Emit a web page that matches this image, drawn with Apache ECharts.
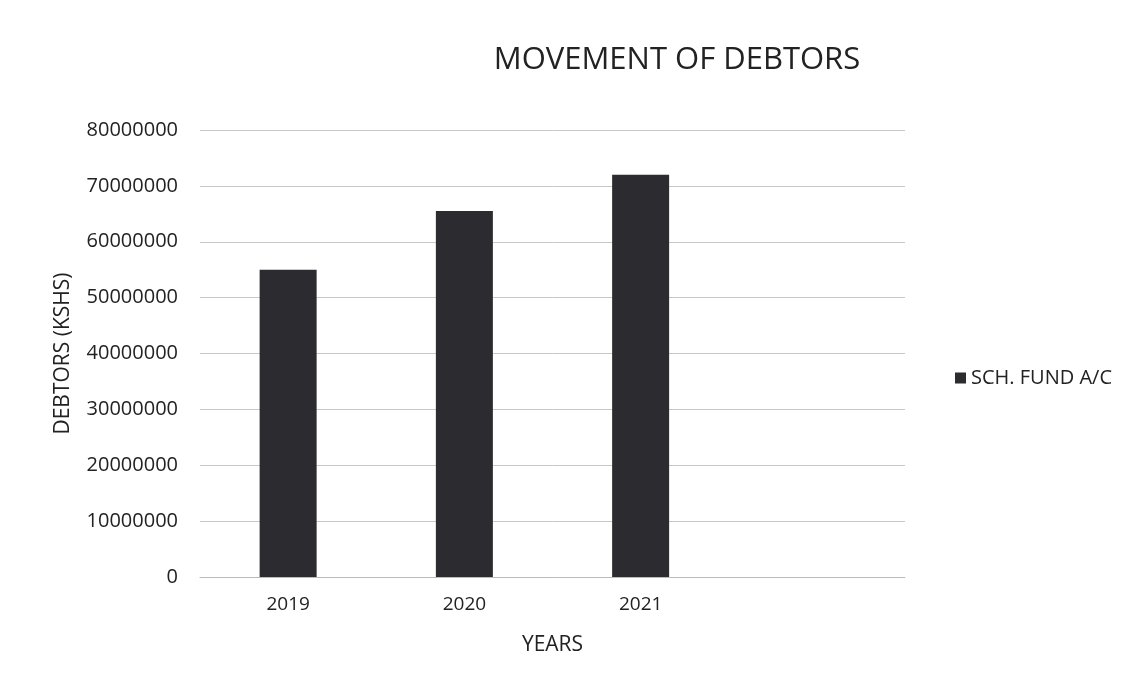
<!DOCTYPE html>
<html>
<head>
<meta charset="utf-8">
<script src="https://cdn.jsdelivr.net/npm/echarts@6/dist/echarts.min.js"></script>
<style>
html,body{margin:0;padding:0;background:#fff;}
#chart{width:1134px;height:688px;}
</style>
</head>
<body>
<div id="chart"></div>
<script>
const categories = ['2019', '2020', '2021', ''];
const schFund = [55000000, 65500000, 72000000, null];
const yTicks = { min: 0, max: 80000000, interval: 10000000 };

const chart = echarts.init(document.getElementById('chart'));
const font = '"Open Sans", "Liberation Sans", sans-serif';
chart.setOption({
  backgroundColor: '#ffffff',
  animation: false,
  title: {
    text: 'MOVEMENT OF DEBTORS',
    left: 672, top: 40, textAlign: 'center',
    textStyle: { fontFamily: font, fontSize: 31, fontWeight: 'normal', color: '#222' }
  },
  legend: {
    data: ['SCH. FUND A/C'],
    left: 950, top: 363, orient: 'vertical',
    itemWidth: 11, itemHeight: 11, itemGap: 6,
    icon: 'rect',
    textStyle: { fontFamily: font, fontSize: 20, color: '#222' }
  },
  grid: { left: 200, right: 229, top: 130, bottom: 111, containLabel: false },
  xAxis: {
    type: 'category',
    data: categories,
    name: 'YEARS', nameLocation: 'middle', nameGap: 58,
    nameTextStyle: { fontFamily: font, fontSize: 21, color: '#222' },
    axisLine: { show: true, lineStyle: { color: '#bbb' } },
    axisTick: { show: false },
    axisLabel: { fontFamily: font, fontSize: 19, color: '#222', margin: 18 }
  },
  yAxis: {
    type: 'value',
    min: yTicks.min, max: yTicks.max, interval: yTicks.interval,
    name: 'DEBTORS (KSHS)', nameLocation: 'middle', nameGap: 126,
    nameTextStyle: { fontFamily: font, fontSize: 21, color: '#222' },
    axisLine: { show: false },
    axisTick: { show: false },
    axisLabel: { fontFamily: font, fontSize: 20, color: '#222', margin: 22,
      formatter: v => String(v) },
    splitLine: { lineStyle: { color: '#c8c8c8', width: 1 } }
  },
  series: [{
    name: 'SCH. FUND A/C',
    type: 'bar',
    data: schFund,
    barWidth: 57,
    itemStyle: { color: '#2b2b30' }
  }]
});
</script>
</body>
</html>
